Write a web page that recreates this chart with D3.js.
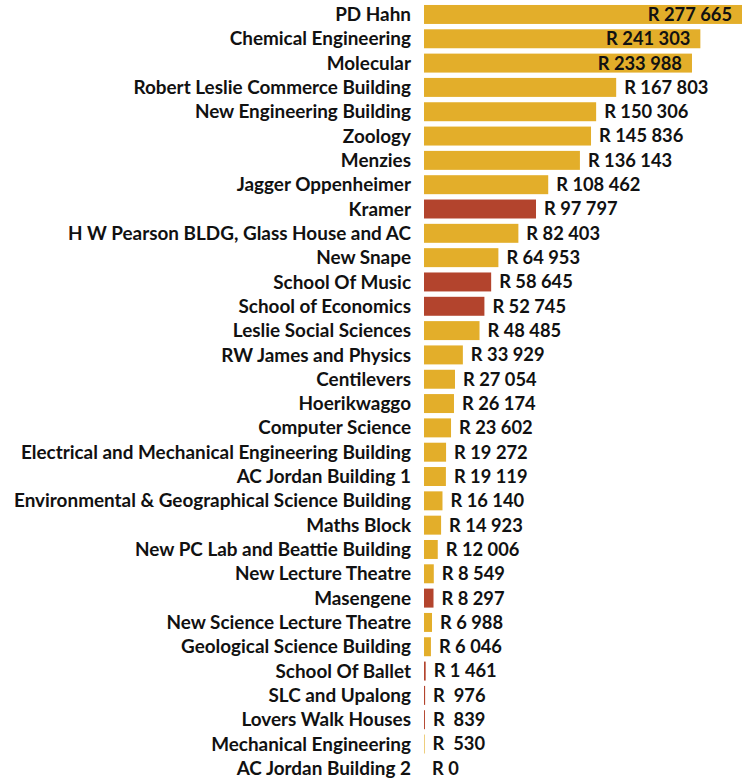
<!DOCTYPE html>
<html>
<head>
<meta charset="utf-8">
<script src="https://cdn.jsdelivr.net/npm/d3@7"></script>
<style>
  body { margin: 0; background: #fff; }
  text { font-family: Lato, "Open Sans", sans-serif; font-weight: bold; fill: #111; }
  text.name { font-size: 18.9px; }
  text.val { font-size: 18.3px; }
</style>
</head>
<body>
<svg id="chart" width="752" height="778"></svg>
<script>
// building names, top to bottom
var buildings = ["PD Hahn", "Chemical Engineering", "Molecular", "Robert Leslie Commerce Building",
  "New Engineering Building", "Zoology", "Menzies", "Jagger Oppenheimer", "Kramer",
  "H W Pearson BLDG, Glass House and AC", "New Snape", "School Of Music", "School of Economics",
  "Leslie Social Sciences", "RW James and Physics", "Centilevers", "Hoerikwaggo", "Computer Science",
  "Electrical and Mechanical Engineering Building", "AC Jordan Building 1",
  "Environmental & Geographical Science Building", "Maths Block", "New PC Lab and Beattie Building",
  "New Lecture Theatre", "Masengene", "New Science Lecture Theatre", "Geological Science Building",
  "School Of Ballet", "SLC and Upalong", "Lovers Walk Houses", "Mechanical Engineering",
  "AC Jordan Building 2"];

var amounts = [277665, 241303, 233988, 167803, 150306, 145836, 136143, 108462, 97797, 82403,
  64953, 58645, 52745, 48485, 33929, 27054, 26174, 23602, 19272, 19119, 16140, 14923, 12006,
  8549, 8297, 6988, 6046, 1461, 976, 839, 530, 0];

// buildings drawn in red
var highlighted = ["Kramer", "School Of Music", "School of Economics", "Masengene",
  "School Of Ballet", "SLC and Upalong", "Lovers Walk Houses"];

var data = buildings.map(function(d, i) { return {name: d, value: amounts[i]}; });

var gold = "#e3ae2a", red = "#b3442d";
var x0 = 424, x1 = 742;

var x = d3.scaleLinear().domain([0, d3.max(amounts)]).range([x0, x1]);
var y = d3.scaleBand().domain(buildings).range([2.3, 780.5])
  .paddingInner(0.22).paddingOuter(0.11);

function fmt(v) {
  if (v < 1000 && v > 0) return "R  " + v;
  return "R " + d3.format(",")(v).replace(/,/g, " ");
}

var svg = d3.select("#chart");

svg.selectAll("rect.bar")
  .data(data)
  .enter()
  .append("rect")
  .attr("class", "bar")
  .attr("x", x(0))
  .attr("y", function(d) { return y(d.name); })
  .attr("width", function(d) { return Math.max(0, x(d.value) - x(0)); })
  .attr("height", y.bandwidth())
  .attr("fill", function(d) { return highlighted.indexOf(d.name) >= 0 ? red : gold; });

// category labels
svg.selectAll("text.name")
  .data(data)
  .enter()
  .append("text")
  .attr("class", "name")
  .attr("x", 411)
  .attr("y", function(d) { return y(d.name) + y.bandwidth() / 2; })
  .attr("dy", "0.35em")
  .attr("text-anchor", "end")
  .text(function(d) { return d.name; });

// value labels, inside the bar when they would run off the edge
var vals = svg.selectAll("text.val")
  .data(data)
  .enter()
  .append("text")
  .attr("class", "val")
  .attr("xml:space", "preserve")
  .style("white-space", "pre")
  .attr("y", function(d) { return y(d.name) + y.bandwidth() / 2; })
  .attr("dy", "0.35em")
  .text(function(d) { return fmt(d.value); });

vals.each(function(d) {
  var w = this.getComputedTextLength();
  var end = x(d.value) + 8;
  if (end + w > 750) {
    d3.select(this).attr("x", x(d.value) - 10).attr("text-anchor", "end");
  } else {
    d3.select(this).attr("x", end);
  }
});
</script>
</body>
</html>
